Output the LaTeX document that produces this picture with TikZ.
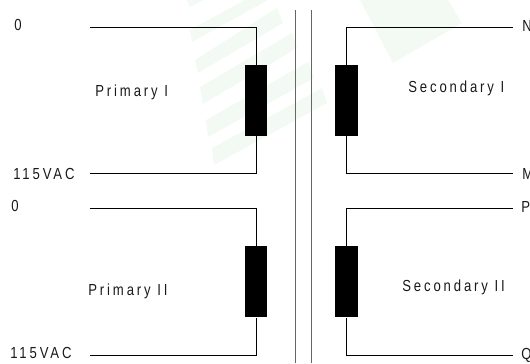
\documentclass[tikz,border=0pt]{standalone}
\usepackage{fontspec}
\setmainfont{Liberation Sans}[FakeStretch=0.82,LetterSpace=18]
\definecolor{wm}{HTML}{F2FAF3}
\tikzset{
  x=0.75pt,y=-0.75pt,
  wire/.style={draw=black,line width=0.85pt,line join=miter},
  core/.style={draw=black!60,line width=1.2pt},
  coil/.style={fill=black,draw=none,minimum width=16.9pt,minimum height=53.4pt,inner sep=0pt},
  lab/.style={font=\fontsize{12pt}{12pt}\selectfont,inner sep=0pt,anchor=base west,text=black!90}
}
\begin{document}
\begin{tikzpicture}
\useasboundingbox (0,0) rectangle (530,363);
\fill[wm] (360,0) -- (448,0) -- (462,23) -- (393,63) -- cycle;
\fill[wm] (186,0) -- (190,7) -- (203,0) -- cycle;
\fill[wm] (190,30) -- (245,0) -- (268,0) -- (192,42) -- cycle;
\fill[wm] (195,60) -- (277,8) -- (283,23) -- (198,73) -- cycle;
\fill[wm] (200,87) -- (292,33) -- (297,48) -- (203,104) -- cycle;
\fill[wm] (206,120) -- (308,62) -- (314,78) -- (208,137) -- cycle;
\fill[wm] (212,148) -- (322,88) -- (327,103) -- (214,165) -- cycle;
\node[coil] (c1) at (256.2,100.5) {};
\node[coil] (c2) at (346.5,100.5) {};
\node[coil] (c3) at (256.2,281.7) {};
\node[coil] (c4) at (346.5,281.7) {};
\coordinate (a1) at (90,27.5);
\coordinate (a2) at (90,173.5);
\coordinate (b1) at (513,27.5);
\coordinate (b2) at (513,173.5);
\coordinate (a3) at (90,208.5);
\coordinate (a4) at (90,355.5);
\coordinate (b3) at (513,208.5);
\coordinate (b4) at (513,355.5);
\draw[wire] (a1) -| (c1.north);
\draw[wire] (a2) -| (c1.south);
\draw[wire] (b1) -| (c2.north);
\draw[wire] (b2) -| (c2.south);
\draw[wire] (a3) -| (c3.north);
\draw[wire] (a4) -| (c3.south);
\draw[wire] (b3) -| (c4.north);
\draw[wire] (b4) -| (c4.south);
\coordinate (t1) at (295.5,10);
\coordinate (t2) at (295.5,363);
\coordinate (t3) at (311.5,10);
\coordinate (t4) at (311.5,363);
\draw[core] (t1) -- (t2);
\draw[core] (t3) -- (t4);
\node[lab] (l1) at (14,31) {0};
\node[lab] (l2) at (13,179) {115VAC};
\node[lab] (l3) at (11,211) {0};
\node[lab] (l4) at (10,358) {115VAC};
\node[lab] (l5) at (95,97) {Primary I};
\node[lab] (l6) at (88,295) {Primary II};
\node[lab] (l7) at (408,93) {Secondary I};
\node[lab] (l8) at (402,291) {Secondary II};
\node[lab] (l9) at (522,32) {N};
\node[lab] (l10) at (522,179) {M};
\node[lab] (l11) at (521,212) {P};
\node[lab] (l12) at (521,359) {Q};
\end{tikzpicture}
\end{document}
